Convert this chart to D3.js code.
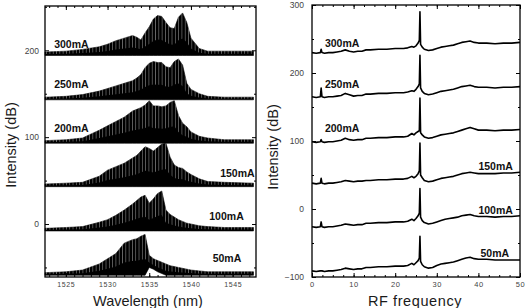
<!doctype html>
<html lang="en">
<head>
<meta charset="utf-8">
<title>Spectra and RF</title>
<script src="https://d3js.org/d3.v7.min.js"></script>
<style>
  body { margin: 0; background: #fff; }
  svg { display: block; font-family: "Liberation Sans", Arial, sans-serif; }
  .tick text { fill: #444; }
  .lbl { font-weight: bold; fill: #111; }
  .title { fill: #1a1a1a; font-size: 14.5px; }
</style>
</head>
<body>
<div id="chart"></div>
<script>
// ---- data: optical spectra (envelopes), wavelength in nm ----
const currents = ["50mA", "100mA", "150mA", "200mA", "250mA", "300mA"];
const wl = [1522.5, 1525, 1527, 1529, 1530, 1531, 1532, 1533, 1533.5, 1534, 1534.5, 1535, 1535.5,
            1536, 1536.5, 1537, 1537.5, 1538, 1538.5, 1539, 1539.5, 1540, 1541, 1542, 1544, 1547.5];
const up50  = [-56,-55,-53,-46,-40,-34,-22,-18,-17,-14,-12,-36,-40,-42,-44,-46,-48,-49,-50,-51,-52,-53,-54,-55,-55,-55];
const lo50  = [-59,-59,-59,-59,-59,-59,-59,-59,-59,-59,-59,-50,-52,-55,-57,-59,-59,-59,-59,-59,-59,-59,-59,-59,-59,-59];
const up100 = [-5,-4,-3,2,5,10,16,23,27,31,33,24,29,35,38,16,11,8,5,3,1,0,-2,-3,-4,-4];
const lo100 = [-8,-8,-8,-8,-8,-8,-8,-8,-8,-8,-8,-8,-8,-8,-8,-8,-8,-8,-8,-8,-8,-8,-8,-8,-8,-8];
const up150 = [46,47,48,55,62,66,70,76,79,84,89,87,84,88,92,93,77,68,65,64,60,57,52,49,48,47];
const lo150 = [43,43,43,43,43,43,43,43,43,43,43,43,43,43,43,43,43,43,43,43,43,43,43,43,43,43];
const up200 = [96,97,99,108,113,118,123,130,132,134,137,142,136,136,135,136,140,142,125,116,112,106,101,99,97,97];
const lo200 = [93,93,93,93,93,93,93,93,93,93,93,93,93,93,93,93,93,93,93,93,93,93,93,93,93,93];
const up250 = [146,147,149,153,156,159,162,165,168,172,180,185,187,186,186,181,180,187,190,183,162,155,150,147,146,146];
const lo250 = [143,143,143,143,143,143,143,143,143,143,143,143,143,143,143,143,143,143,143,143,143,143,143,143,143,143];
const up300 = [198,199,201,204,207,211,214,217,215,212,220,227,236,240,239,232,226,225,238,243,232,214,202,199,199,199];
const lo300 = [194,194,194,194,194,194,194,194,194,194,194,194,194,194,194,194,194,194,194,194,194,194,194,194,194,194];

// ---- data: RF spectra, frequency in GHz ----
const rfFreq = [0,1,2,2.2,2.4,3,4,5,6,7,8,9,10,11,12,13,14,16,18,20,22,23,24,24.5,25,25.5,25.8,25.95,26.1,26.5,
                27,28,29,30,31,32,33,34,35,36,37,38,39,40,42,44,46,48,50];
const rf300 = [230,229,230,235,230,229,230,230,231,232,234,232,231,232,232,234,234,235,235,236,236,237,239,238,240,244,248,290,242,238,
               235,233,234,236,238,239,240,241,243,245,246,247,245,244,244,243,244,244,245];
const rf250 = [165,164,165,178,165,164,165,165,166,167,170,168,166,167,167,169,169,170,170,171,171,172,174,173,176,180,184,226,178,173,
               170,168,169,171,173,174,175,176,178,180,181,182,180,179,179,178,179,179,180];
const rf200 = [99,98,99,102,99,98,99,99,100,101,104,102,101,102,102,104,104,105,105,106,106,107,111,109,112,114,115,163,112,109,
               106,104,105,107,109,110,111,112,114,116,118,120,118,116,116,115,116,116,117];
const rf150 = [38,37,38,45,38,37,38,38,39,40,42,41,40,41,41,42,42,43,43,44,44,45,48,46,48,52,56,97,50,46,
               42,40,41,43,45,46,47,48,50,52,53,54,53,52,52,52,53,53,54];
const rf100 = [-26,-27,-26,-19,-26,-27,-26,-26,-25,-24,-22,-23,-24,-23,-23,-21,-21,-20,-20,-19,-19,-18,-15,-17,-14,-10,-6,30,-12,-17,
               -20,-22,-21,-19,-17,-15,-14,-13,-12,-10,-9,-8,-10,-11,-11,-12,-11,-11,-10];
const rf50  = [-91,-92,-91,-91,-91,-92,-91,-91,-90,-89,-87,-88,-89,-88,-88,-86,-86,-85,-85,-84,-84,-83,-80,-82,-79,-76,-72,-40,-77,-82,
               -85,-87,-86,-83,-81,-80,-79,-78,-76,-74,-72,-71,-73,-74,-74,-75,-75,-75,-75];

const wlTicks = [1525, 1530, 1535, 1540, 1545];
const optTicks = [0, 100, 200];
const rfTicks = [0, 10, 20, 30, 40, 50];
const rfYTicks = [-100, 0, 100, 200, 300];

const optUp = [up50, up100, up150, up200, up250, up300];
const optLo = [lo50, lo100, lo150, lo200, lo250, lo300];
const rfVals = [rf50, rf100, rf150, rf200, rf250, rf300];

// label anchor points (data units) for each current
const optLabelPos = [[1542.6, -44], [1542.2, 5], [1543.5, 54], [1523.6, 106], [1523.6, 157], [1523.6, 203]];
const rfLabelPos  = [[40.5, -71], [40, -7], [40, 57], [3.1, 113], [3.1, 178], [3.1, 238]];

// ---- layout ----
const width = 527, height = 308;
const svg = d3.select("#chart").append("svg").attr("width", width).attr("height", height);

// fringe texture for the optical spectra
const defs = svg.append("defs");
defs.append("pattern")
    .attr("id", "fringe")
    .attr("patternUnits", "userSpaceOnUse")
    .attr("width", 3.3).attr("height", 10)
    .append("rect")
    .attr("x", 0).attr("y", 0).attr("width", 0.6).attr("height", 10)
    .attr("fill", "#fff").attr("opacity", 0.55);

const xL = d3.scaleLinear().domain([1522.5, 1547.8]).range([45, 256]);
const yL = d3.scaleLinear().domain([-61, 251]).range([277, 6]);
const xR = d3.scaleLinear().domain([0, 50]).range([312, 520]);
const yR = d3.scaleLinear().domain([-100, 300]).range([277, 5]);

// left panel: filled spectra
const gL = svg.append("g");
const area = d3.area()
    .x(d => xL(d.x))
    .y0(d => yL(d.lo))
    .y1(d => yL(d.hi));

currents.forEach((c, i) => {
    const pts = wl.map((w, k) => ({x: w, lo: optLo[i][k], hi: optUp[i][k]}));
    gL.append("path")
        .attr("d", area(pts))
        .attr("fill", "#000")
        .attr("stroke", "#000")
        .attr("stroke-width", 0.6);
    // fringes show in the upper part of each envelope
    const upper = pts.map(p => ({x: p.x, lo: p.lo + (p.hi - p.lo) * 0.4, hi: p.hi + 0.5}));
    gL.append("path")
        .attr("d", area(upper))
        .attr("fill", "url(#fringe)");
});

// right panel: RF traces
const gR = svg.append("g");
const line = d3.line().x(d => xR(d[0])).y(d => yR(d[1]));
currents.forEach((c, i) => {
    gR.append("path")
        .attr("d", line(rfFreq.map((f, k) => [f, rfVals[i][k]])))
        .attr("fill", "none")
        .attr("stroke", "#000")
        .attr("stroke-width", 1.6)
        .attr("stroke-linejoin", "round");
});

// frames and ticks
function frame(x, y, xt, yt, xMinor, yMinor, xFont, yFont, yPad) {
    const [x0, x1] = x.range(), [y1, y0] = y.range();
    const add = (axis, tx, ty) => {
        const g = svg.append("g").attr("transform", `translate(${tx},${ty})`).call(axis);
        g.select(".domain").remove();
        g.selectAll("line").attr("stroke", "#000").attr("stroke-width", 1);
        return g;
    };
    add(d3.axisBottom(x).tickValues(xMinor).tickSize(-2).tickFormat(""), 0, y1);
    add(d3.axisTop(x).tickValues(xMinor).tickSize(-2).tickFormat(""), 0, y0);
    add(d3.axisLeft(y).tickValues(yMinor).tickSize(-2).tickFormat(""), x0, 0);
    add(d3.axisRight(y).tickValues(yMinor).tickSize(-2).tickFormat(""), x1, 0);
    add(d3.axisBottom(x).tickValues(xt).tickSize(-4).tickPadding(5).tickFormat(d3.format("d")), 0, y1)
        .selectAll("text").style("font-size", xFont + "px").style("letter-spacing", "0.6px");
    add(d3.axisTop(x).tickValues(xt).tickSize(-4).tickFormat(""), 0, y0);
    add(d3.axisLeft(y).tickValues(yt).tickSize(-4).tickPadding(yPad).tickFormat(d3.format("d")), x0, 0)
        .selectAll("text").style("font-size", yFont + "px");
    add(d3.axisRight(y).tickValues(yt).tickSize(-4).tickFormat(""), x1, 0);
    svg.append("rect").attr("x", x0).attr("y", y0).attr("width", x1 - x0).attr("height", y1 - y0)
        .attr("fill", "none").attr("stroke", "#000").attr("stroke-width", 1.3);
}

frame(xL, yL, wlTicks, optTicks, d3.range(1523, 1548, 1), [-50, 50, 150, 250], 7, 8.5, 6);
frame(xR, yR, rfTicks, rfYTicks, d3.range(0, 50.1, 2.5), [-50, 50, 150, 250], 7.5, 8.5, 8);

// series labels
currents.forEach((c, i) => {
    svg.append("text").attr("class", "lbl")
        .attr("x", xL(optLabelPos[i][0])).attr("y", yL(optLabelPos[i][1]))
        .style("font-size", "10.5px").text(c);
    svg.append("text").attr("class", "lbl")
        .attr("x", xR(rfLabelPos[i][0])).attr("y", yR(rfLabelPos[i][1]))
        .style("font-size", "10.5px").text(c);
});

// axis titles
svg.append("text").attr("class", "title").attr("text-anchor", "middle")
    .attr("x", 148).attr("y", 306).text("Wavelength (nm)");
svg.append("text").attr("class", "title").attr("text-anchor", "middle")
    .attr("x", 415).attr("y", 306).style("letter-spacing", "0.6px").text("RF frequency");
svg.append("text").attr("class", "title").attr("text-anchor", "middle")
    .attr("transform", "translate(16,145) rotate(-90)").text("Intensity (dB)");
svg.append("text").attr("class", "title").attr("text-anchor", "middle")
    .attr("transform", "translate(278,147) rotate(-90)").text("Intensity (dB)");
</script>
</body>
</html>
